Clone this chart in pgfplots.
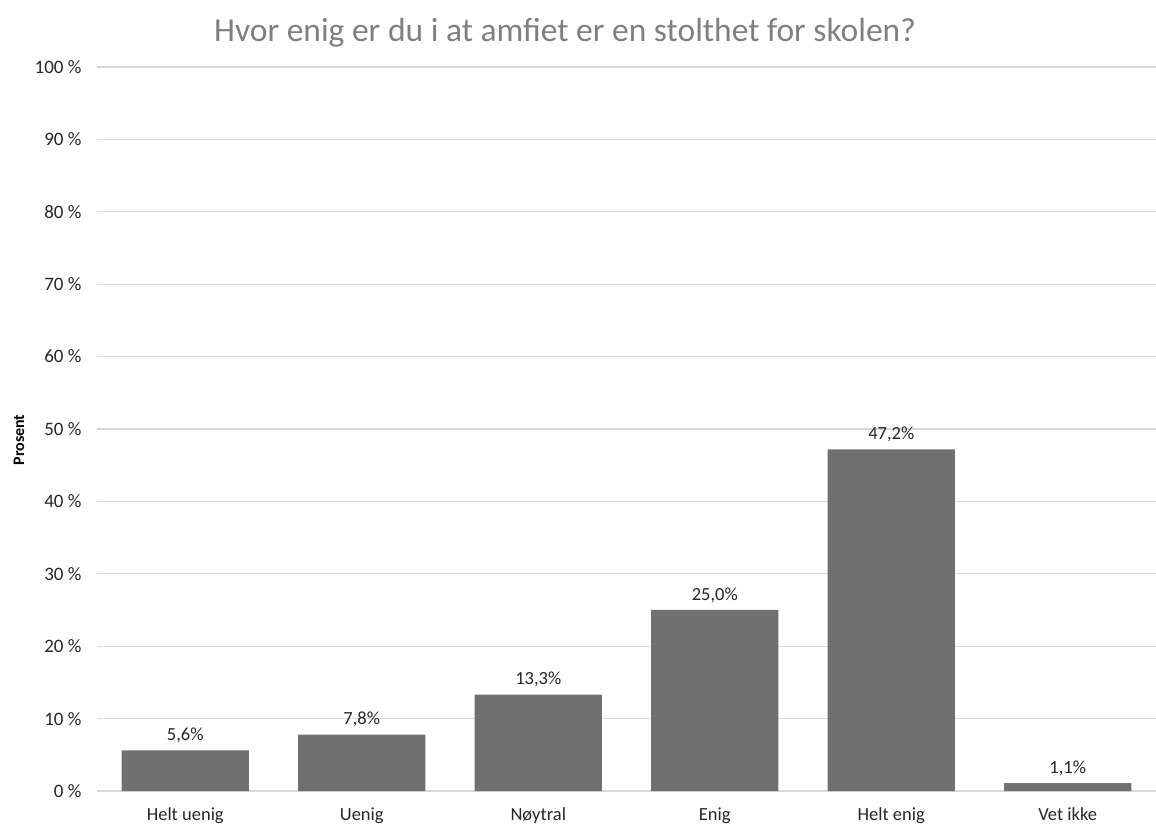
\documentclass[border=0pt]{standalone}
\usepackage{fontspec}
\setmainfont{Carlito}
\usepackage{pgfplots}
\pgfplotsset{compat=1.18}
\definecolor{barc}{HTML}{707070}
\definecolor{gridc}{HTML}{D9D9D9}
\definecolor{titlec}{HTML}{7F7F7F}
\definecolor{txt}{HTML}{262626}
\begin{document}
\begin{tikzpicture}
\useasboundingbox (-97pt,-36pt) rectangle (1059pt,791pt);
\begin{axis}[
  at={(0pt,0pt)}, anchor=south west,
  scale only axis, width=1059pt, height=724pt,
  xmin=-0.5, xmax=5.5, ymin=0, ymax=100,
  axis line style={draw=none},
  major tick length=0pt,
  ymajorgrids, grid style={gridc, line width=1.2pt},
  ytick={0,10,...,100},
  yticklabels={0 \%,10 \%,20 \%,30 \%,40 \%,50 \%,60 \%,70 \%,80 \%,90 \%,100 \%},
  yticklabel style={font=\fontsize{19}{22}\selectfont, text=txt, xshift=-12pt},
  xtick={0,...,5},
  xticklabels={Helt uenig,Uenig,Nøytral,Enig,Helt enig,Vet ikke},
  xticklabel style={font=\fontsize{18.5}{22}\selectfont, text=txt, anchor=base, yshift=-29pt},
  point meta=explicit symbolic,
  nodes near coords,
  every node near coord/.append style={font=\fontsize{18.5}{22}\selectfont, text=txt, yshift=4pt},
  clip=false,
]
\addplot[ybar, bar width=0.72, fill=barc, draw=none] table[meta=lab] {
x y lab
0 5.6 5,6\%
1 7.8 7,8\%
2 13.3 13,3\%
3 25.0 25,0\%
4 47.2 47,2\%
5 1.1 1,1\%
};
\end{axis}
\node[rotate=90, font=\bfseries\fontsize{16}{19}\selectfont, text=black] at (-78pt,351pt) {Prosent};
\node[text=titlec, font=\fontsize{33.5}{38}\selectfont] at (468pt,758pt) {Hvor enig er du i at amfiet er en stolthet for skolen?};
\end{tikzpicture}
\end{document}
